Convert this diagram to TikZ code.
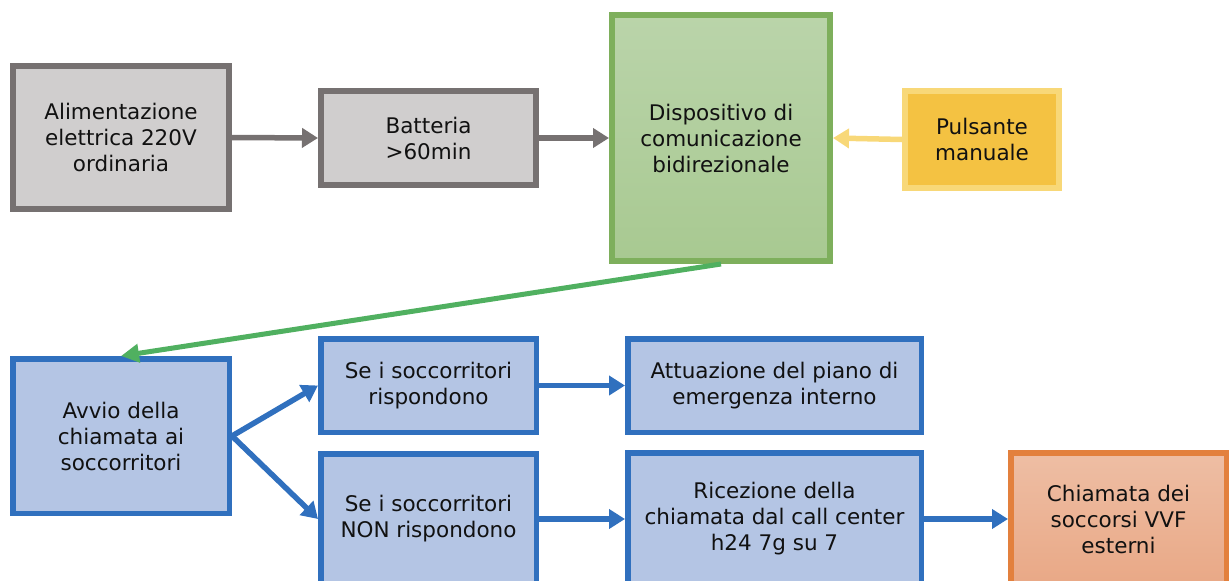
\documentclass[tikz,border=0pt]{standalone}
\usepackage{fontspec}
\setmainfont{DejaVu Sans}
\usetikzlibrary{arrows.meta}
\definecolor{grayline}{HTML}{767171}
\definecolor{grayfill}{HTML}{D0CECE}
\definecolor{greenline}{HTML}{7EAF5C}
\definecolor{greentop}{HTML}{BAD4AA}
\definecolor{greenbot}{HTML}{A8C991}
\definecolor{greenarrow}{HTML}{50B060}
\definecolor{yellowfill}{HTML}{F4C242}
\definecolor{yellowline}{HTML}{F8D878}
\definecolor{bluefill}{HTML}{B4C5E4}
\definecolor{blueline}{HTML}{3070BE}
\definecolor{orangeline}{HTML}{E3803D}
\definecolor{orangetop}{HTML}{EEBEA4}
\definecolor{orangebot}{HTML}{E9A886}
\definecolor{txt}{HTML}{111111}
\tikzset{
  x=1pt, y=-1pt,
  box/.style={rectangle, line width=6pt, align=center, text=txt,
    font=\fontsize{21.5}{26}\selectfont, inner sep=0pt},
  graybox/.style={box, draw=grayline, fill=grayfill},
  greenbox/.style={box, draw=greenline, top color=greentop, bottom color=greenbot},
  yellowbox/.style={box, draw=yellowline, fill=yellowfill},
  bluebox/.style={box, line width=5.5pt, draw=blueline, fill=bluefill},
  orangebox/.style={box, line width=5.5pt, draw=orangeline, top color=orangetop, bottom color=orangebot},
  grayarrow/.style={draw=grayline, line width=5.5pt, -{Triangle[length=16pt,width=19pt]}},
  yellowarrow/.style={draw=yellowline, line width=5.5pt, -{Triangle[length=16pt,width=19pt]}},
  greenarrow/.style={draw=greenarrow, line width=5pt, -{Triangle[length=18pt,width=18pt]}},
  bluearrow/.style={draw=blueline, line width=5.5pt, -{Triangle[length=16pt,width=19pt]}},
}
\begin{document}
\begin{tikzpicture}
\useasboundingbox (0,0) rectangle (1229,581);
\node[graybox, minimum width=216pt, minimum height=143pt] (alim) at (121,137.5) {Alimentazione\\elettrica 220V\\ordinaria};
\node[graybox, minimum width=215pt, minimum height=94pt] (batt) at (428.5,138) {Batteria\\>60min};
\node[greenbox, minimum width=218pt, minimum height=246pt] (disp) at (721,138) {Dispositivo di\\comunicazione\\bidirezionale};
\node[yellowbox, minimum width=154pt, minimum height=97pt] (puls) at (982,139.5) {Pulsante\\manuale};
\node[bluebox, minimum width=216.5pt, minimum height=154.5pt] (avvio) at (121,436) {Avvio della\\chiamata ai\\soccorritori};
\node[bluebox, minimum width=215.5pt, minimum height=93.5pt] (si) at (428.5,385.5) {Se i soccorritori\\rispondono};
\node[bluebox, minimum width=215.5pt, minimum height=130.5pt] (no) at (428.5,519) {Se i soccorritori\\NON rispondono};
\node[bluebox, minimum width=293.5pt, minimum height=93.5pt] (att) at (774.5,385.5) {Attuazione del piano di\\emergenza interno};
\node[bluebox, minimum width=293.5pt, minimum height=132.5pt] (ric) at (774.5,519) {Ricezione della\\chiamata dal call center\\h24 7g su 7};
\node[orangebox, minimum width=215.5pt, minimum height=132.5pt] (chi) at (1118.5,519) {Chiamata dei\\soccorsi VVF\\esterni};
\draw[grayarrow] (alim.east) -- (batt.west);
\draw[grayarrow] (batt.east) -- (disp.west);
\draw[yellowarrow] (puls.west) -- (disp.east);
\draw[greenarrow] (disp.south) -- (avvio.north);
\draw[bluearrow] (avvio.east) -- (si.west);
\draw[bluearrow] (avvio.east) -- (no.west);
\draw[bluearrow] (si.east) -- (att.west);
\draw[bluearrow] (no.east) -- (ric.west);
\draw[bluearrow] (ric.east) -- (chi.west);
\end{tikzpicture}
\end{document}
